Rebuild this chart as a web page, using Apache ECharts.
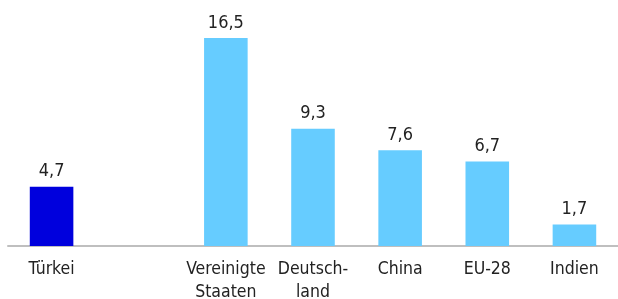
<!DOCTYPE html>
<html>
<head>
<meta charset="utf-8">
<script src="https://cdn.jsdelivr.net/npm/echarts@6/dist/echarts.min.js"></script>
<style>
  html, body { margin: 0; padding: 0; background: #fff; }
  #chart { width: 618px; height: 299px; }
</style>
</head>
<body>
<div id="chart"></div>
<script type="text/javascript">
// Kategorien (leere Stelle als Abstand nach der Türkei)
var categories = ['Türkei', '', 'Vereinigte\nStaaten', 'Deutsch-\nland', 'China', 'EU-28', 'Indien'];
var values = [4.7, null, 16.5, 9.3, 7.6, 6.7, 1.7];
var highlight = 'Türkei';

var chart = echarts.init(document.getElementById('chart'));

var barData = values.map(function (v, i) {
    return {
        value: v,
        itemStyle: { color: categories[i] === highlight ? '#0000dd' : '#66ccff' }
    };
});

var option = {
    animation: false,
    textStyle: { fontFamily: 'DejaVu Sans Condensed' },
    grid: { left: 8, right: 0, top: 19, bottom: 53, containLabel: false, outerBoundsMode: 'none' },
    xAxis: {
        type: 'category',
        data: categories,
        axisTick: { show: false },
        axisLine: { lineStyle: { color: '#bfbfbf', width: 2 } },
        axisLabel: {
            color: '#222',
            fontSize: 17.5,
            lineHeight: 23,
            margin: 12,
            interval: 0
        }
    },
    yAxis: {
        type: 'value',
        min: 0,
        max: 18,
        show: false,
        splitLine: { show: false }
    },
    series: [{
        type: 'bar',
        data: barData,
        barWidth: '50%',
        label: {
            show: true,
            position: 'top',
            distance: 6,
            color: '#222',
            fontSize: 18,
            formatter: function (p) {
                return p.value == null ? '' : String(p.value).replace('.', ',');
            }
        }
    }]
};

chart.setOption(option);
</script>
</body>
</html>
